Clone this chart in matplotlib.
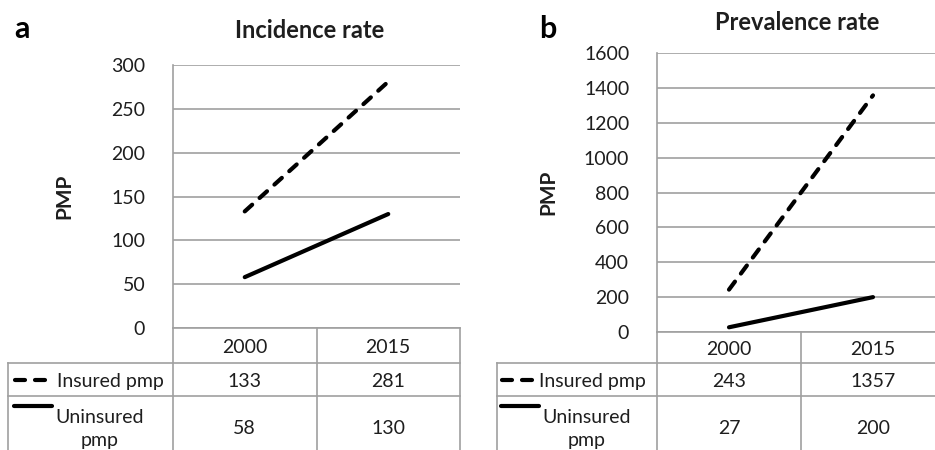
import matplotlib
matplotlib.use("Agg")
import matplotlib.pyplot as plt

plt.rcParams["font.family"] = ["Lato", "DejaVu Sans"]

# data
years = ["2000", "2015"]
incidence_insured = [133, 281]
incidence_uninsured = [58, 130]
prevalence_insured = [243, 1357]
prevalence_uninsured = [27, 200]
row_labels = ["Insured pmp", "Uninsured\npmp"]

W, H = 935, 450
fig = plt.figure(figsize=(W / 100, H / 100), dpi=100)

grid_c = "#a0a0a0"
text_c = "#1e1e1e"
fs = 14


def box(left, top, right, bottom):
    return [left / W, 1 - bottom / H, (right - left) / W, (bottom - top) / H]


# overlay in pixel coordinates for the data tables under the charts
ov = fig.add_axes([0, 0, 1, 1])
ov.set_xlim(0, W)
ov.set_ylim(H, 0)
ov.axis("off")

panels = [
    dict(letter="a", title="Incidence rate", ins=incidence_insured, unins=incidence_uninsured,
         ymax=300, step=50, plot=(173, 65, 460, 328), tab_left=8, rows=(363, 396),
         letter_xy=(14, 29), title_x=310, title_y=31, ylab_x=64,
         key_x=(13, 52), ins_x=57, unins_x=100, right_border=True),
    dict(letter="b", title="Prevalence rate", ins=prevalence_insured, unins=prevalence_uninsured,
         ymax=1600, step=200, plot=(657, 53, 945, 332), tab_left=497, rows=(363, 396),
         letter_xy=(539, 29), title_x=797, title_y=23, ylab_x=548,
         key_x=(500, 539), ins_x=539, unins_x=587, right_border=False),
]

for p in panels:
    left, top, right, bottom = p["plot"]
    ax = fig.add_axes(box(left, top, right, bottom))
    ax.set_facecolor("none")
    x = list(range(len(years)))
    ax.plot(x, p["ins"], color="black", lw=3.0, dashes=(2.4, 2.4),
            dash_capstyle="round", solid_capstyle="round", zorder=3)
    ax.plot(x, p["unins"], color="black", lw=3.0, solid_capstyle="round", zorder=3)
    ax.set_xlim(-0.5, len(years) - 0.5)
    ax.set_ylim(0, p["ymax"])
    ax.set_yticks(range(0, p["ymax"] + 1, p["step"]))
    ax.set_xticks([])
    ax.tick_params(axis="y", length=0, pad=20, labelsize=fs, labelcolor=text_c)
    ax.grid(axis="y", color=grid_c, lw=1.2)
    ax.set_axisbelow(True)
    for s in ["top", "right", "bottom"]:
        ax.spines[s].set_visible(False)
    ax.spines["left"].set_color(grid_c)
    ax.spines["left"].set_linewidth(1.2)

    fig.text(p["letter_xy"][0] / W, 1 - p["letter_xy"][1] / H, p["letter"],
             fontsize=22, fontweight="bold", va="center", ha="left")
    fig.text(p["title_x"] / W, 1 - p["title_y"] / H, p["title"], fontsize=17,
             fontweight="bold", ha="center", va="center", color=text_c)
    fig.text(p["ylab_x"] / W, 1 - ((top + bottom) / 2) / H, "PMP", rotation=90,
             fontsize=15, fontweight="bold", ha="center", va="center", color=text_c)

    # table geometry
    r1, r2 = p["rows"]
    tb = H + 12
    centers = [ax.transData.transform((i, 0))[0] for i in x]
    divs = [ax.transData.transform((i + 0.5, 0))[0] for i in x[:-1]]
    lk = dict(color=grid_c, lw=1.2)
    ov.plot([left, right], [bottom, bottom], **lk)
    ov.plot([p["tab_left"], right], [r1, r1], **lk)
    ov.plot([p["tab_left"], right], [r2, r2], **lk)
    ov.plot([left, left], [bottom, tb], **lk)
    ov.plot([p["tab_left"], p["tab_left"]], [r1, tb], **lk)
    for d in divs:
        ov.plot([d, d], [bottom, tb], **lk)
    if p["right_border"]:
        ov.plot([right, right], [bottom, tb], **lk)

    row_mid = [(r1 + r2) / 2, 428]
    for i, c in enumerate(centers):
        ov.text(c, (bottom + r1) / 2 + 2, years[i], fontsize=fs, color=text_c,
                ha="center", va="center")
        ov.text(c, row_mid[0] + 2, str(p["ins"][i]), fontsize=fs, color=text_c,
                ha="center", va="center")
        ov.text(c, row_mid[1], str(p["unins"][i]), fontsize=fs, color=text_c,
                ha="center", va="center")

    # row labels with legend keys
    k0, k1 = p["key_x"]
    ov.plot([k0 + 2, k1 - 4], [row_mid[0], row_mid[0]], color="black", lw=3.0,
            dashes=(2.4, 2.4), dash_capstyle="round")
    ov.text(p["ins_x"], row_mid[0] + 2, row_labels[0], fontsize=fs, color=text_c,
            ha="left", va="center")
    ov.plot([k0 + 1, k1], [r2 + 10, r2 + 10], color="black", lw=3.0,
            solid_capstyle="round")
    ov.text(p["unins_x"], row_mid[1] + 1, row_labels[1], fontsize=fs, color=text_c,
            ha="center", va="center", linespacing=1.45)

fig.savefig("out.png", dpi=100)
